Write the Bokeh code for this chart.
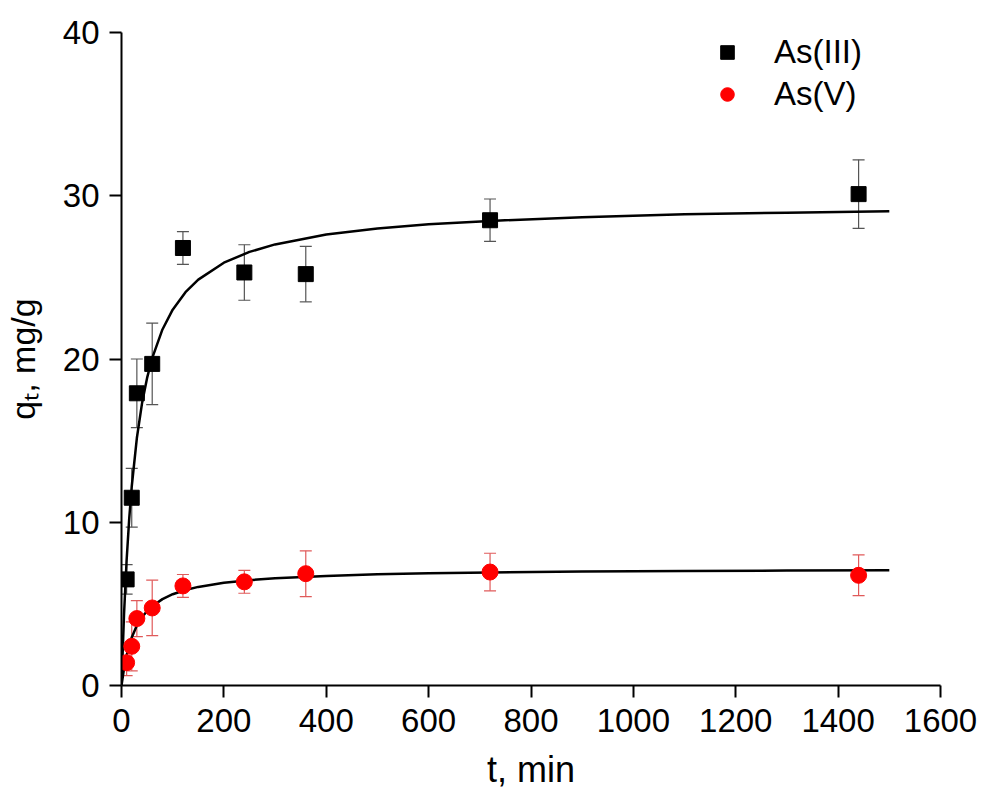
from bokeh.plotting import figure
from bokeh.models import Range1d, ColumnDataSource, Whisker, TeeHead, Legend, LegendItem
from bokeh.embed import file_html
from bokeh.resources import INLINE

# ---- data ----
t_points = [10, 20, 30, 60, 120, 240, 360, 720, 1440]
q_as3 = [6.5, 11.5, 17.9, 19.7, 26.8, 25.3, 25.2, 28.5, 30.1]
err_as3 = [0.9, 1.8, 2.1, 2.5, 1.0, 1.7, 1.7, 1.3, 2.1]
q_as5 = [1.4, 2.4, 4.1, 4.75, 6.1, 6.35, 6.85, 6.95, 6.75]
err_as5 = [0.8, 1.5, 1.1, 1.7, 0.7, 0.7, 1.4, 1.15, 1.25]

fit_t = [0, 5, 10, 15, 20, 30, 40, 50, 60, 80, 100, 125, 150, 200, 250, 300,
         400, 500, 600, 720, 900, 1100, 1300, 1500]
fit_as3 = [0, 4.41, 7.67, 10.19, 12.19, 15.16, 17.27, 18.84, 20.05, 21.81, 23.02,
           24.09, 24.86, 25.9, 26.56, 27.02, 27.63, 28.0, 28.25, 28.46, 28.68,
           28.87, 28.96, 29.05]
fit_as5 = [0, 1.06, 1.85, 2.46, 2.94, 3.67, 4.18, 4.56, 4.86, 5.29, 5.59, 5.85,
           6.04, 6.29, 6.45, 6.57, 6.71, 6.81, 6.87, 6.92, 6.98, 7.02, 7.04, 7.06]

x_ticks = [0, 200, 400, 600, 800, 1000, 1200, 1400, 1600]
y_ticks = [0, 10, 20, 30, 40]

FONT = "Liberation Sans"

p = figure(width=982, height=792, output_backend="svg", toolbar_location=None,
           x_range=Range1d(0, 1600), y_range=Range1d(0, 40),
           min_border_left=120, min_border_right=42,
           min_border_top=32, min_border_bottom=105)
p.outline_line_color = None
p.grid.visible = False
p.background_fill_color = "white"
p.border_fill_color = "white"

for ax in (p.xaxis[0], p.yaxis[0]):
    ax.axis_line_width = 2
    ax.axis_line_color = "black"
    ax.major_tick_line_width = 2
    ax.minor_tick_line_width = 2
    ax.major_tick_out = 12
    ax.major_tick_in = 0
    ax.minor_tick_out = 6
    ax.minor_tick_in = 0
    ax.major_label_text_font = FONT
    ax.major_label_text_font_size = "33px"
    ax.major_label_text_color = "black"
    ax.axis_label_text_font = FONT
    ax.axis_label_text_font_style = "normal"
    ax.axis_label_text_color = "black"

p.xaxis.axis_label_text_font_size = "36px"
p.yaxis.axis_label_text_font_size = "34px"
p.xaxis.ticker = x_ticks
p.xaxis[0].ticker.num_minor_ticks = 2
p.yaxis.ticker = y_ticks
p.yaxis[0].ticker.num_minor_ticks = 2
p.xaxis.major_label_standoff = 11
p.yaxis.major_label_standoff = 10
p.xaxis.axis_label = "t, min"
p.yaxis.axis_label = "q\u209c, mg/g"
p.xaxis.axis_label_standoff = 14
p.yaxis.axis_label_standoff = 18

src3 = ColumnDataSource(dict(t=t_points, q=q_as3,
                             lo=[q - e for q, e in zip(q_as3, err_as3)],
                             hi=[q + e for q, e in zip(q_as3, err_as3)]))
src5 = ColumnDataSource(dict(t=t_points, q=q_as5,
                             lo=[q - e for q, e in zip(q_as5, err_as5)],
                             hi=[q + e for q, e in zip(q_as5, err_as5)]))

w3 = Whisker(source=src3, base="t", upper="hi", lower="lo", level="underlay",
             line_color="#555555", line_width=1.2,
             upper_head=TeeHead(size=12, line_color="#555555", line_width=1.2),
             lower_head=TeeHead(size=12, line_color="#555555", line_width=1.2))
w5 = Whisker(source=src5, base="t", upper="hi", lower="lo", level="underlay",
             line_color="#e05a5a", line_width=1.2,
             upper_head=TeeHead(size=12, line_color="#e05a5a", line_width=1.2),
             lower_head=TeeHead(size=12, line_color="#e05a5a", line_width=1.2))
p.add_layout(w3)
p.add_layout(w5)

p.line(fit_t, fit_as3, line_color="black", line_width=2.5)
p.line(fit_t, fit_as5, line_color="black", line_width=2.5)

r3 = p.scatter("t", "q", source=src3, marker="square", size=15,
               fill_color="black", line_color="black")
r5 = p.scatter("t", "q", source=src5, marker="circle", size=16,
               fill_color="#ff0000", line_color="#ff0000")

legend = Legend(items=[LegendItem(label="As(III)", renderers=[r3]),
                       LegendItem(label="As(V)", renderers=[r5])],
                location=(589, 571), orientation="vertical",
                border_line_color=None, background_fill_alpha=0,
                label_text_font=FONT, label_text_font_size="33px",
                label_text_color="black",
                glyph_width=34, glyph_height=34, label_height=40,
                label_standoff=30, spacing=2, padding=0, margin=0)
p.add_layout(legend)

open("out.html", "w").write(file_html(p, INLINE))
